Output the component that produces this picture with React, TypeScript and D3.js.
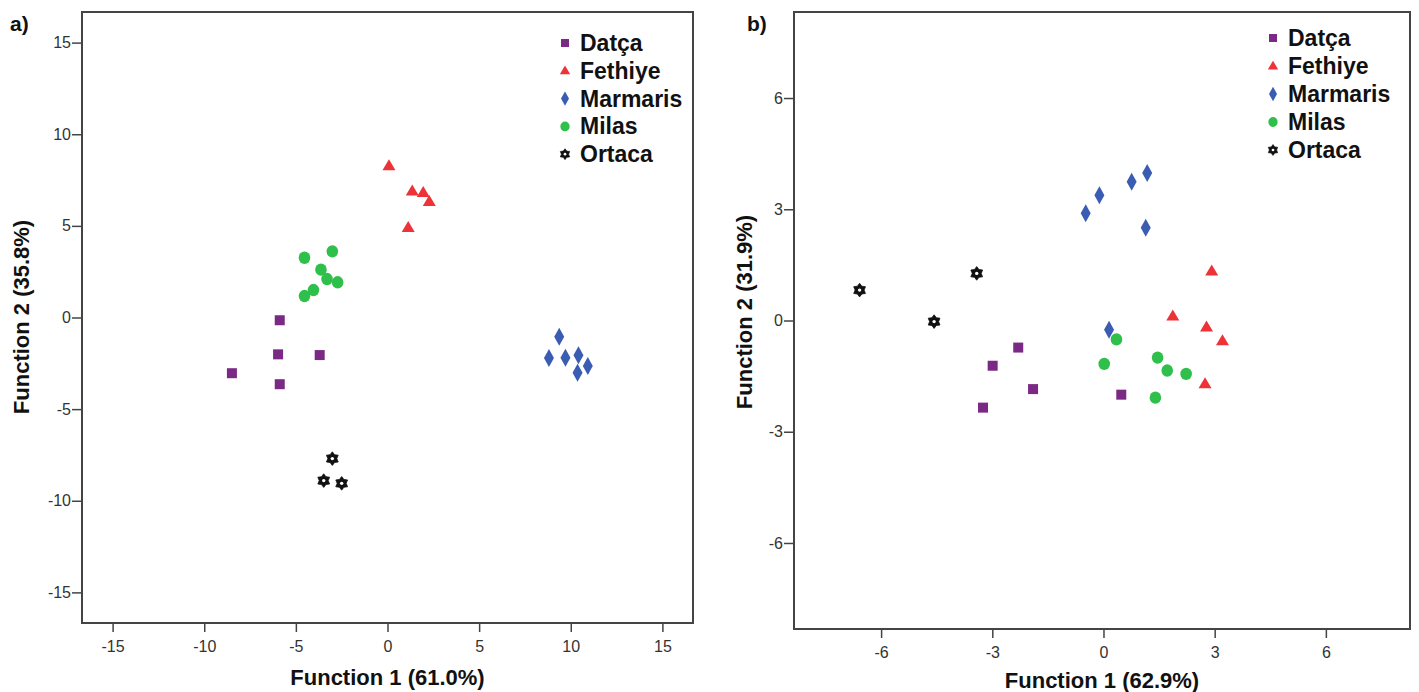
import React, { useEffect, useRef } from 'react';
import * as d3 from 'd3';

// group names + colours
const groups = ['Datça', 'Fethiye', 'Marmaris', 'Milas', 'Ortaca'];
const groupColors = ['#7a2a84', '#ee3338', '#3b5cb3', '#2fbf4b', '#111111'];

// panel a) discriminant scores [function 1, function 2]
const aDatca = [[-8.49, -3.04], [-5.88, -0.15], [-5.97, -2.01], [-5.88, -3.64], [-3.70, -2.05]];
const aFethiye = [[0.08, 8.27], [1.35, 6.90], [1.95, 6.82], [2.28, 6.33], [1.13, 4.91]];
const aMarmaris = [[9.37, -1.05], [8.81, -2.21], [9.71, -2.19], [10.42, -2.06], [10.37, -3.01], [10.93, -2.65]];
const aMilas = [[-4.53, 3.26], [-3.01, 3.61], [-3.63, 2.61], [-3.30, 2.10], [-2.72, 1.92], [-4.04, 1.50], [-4.53, 1.17]];
const aOrtaca = [[-3.01, -7.70], [-3.48, -8.90], [-2.50, -9.05]];

// panel b)
const bDatca = [[-2.30, -0.73], [-2.99, -1.22], [-1.90, -1.85], [-3.25, -2.35], [0.48, -2.00]];
const bFethiye = [[2.92, 1.33], [1.87, 0.12], [2.78, -0.18], [3.21, -0.55], [2.74, -1.71]];
const bMarmaris = [[-0.48, 2.89], [-0.11, 3.38], [0.76, 3.74], [1.18, 3.98], [1.14, 2.50], [0.15, -0.25]];
const bMilas = [[0.35, -0.51], [0.02, -1.17], [1.46, -1.00], [1.72, -1.35], [2.23, -1.44], [1.40, -2.08]];
const bOrtaca = [[-6.58, 0.82], [-4.57, -0.03], [-3.42, 1.27]];

const aTicks = [-15, -10, -5, 0, 5, 10, 15];
const bTicks = [-6, -3, 0, 3, 6];

const TICK_FONT = '"Liberation Sans", Arial, sans-serif';

// 6-pointed star (hole drawn on top)
function starPath(r: number) {
  const pts: [number, number][] = [];
  for (let i = 0; i < 12; i++) {
    const a = (Math.PI / 6) * i - Math.PI / 2;
    const rr = i % 2 === 0 ? r : r * 0.66;
    pts.push([Math.cos(a) * rr, Math.sin(a) * rr]);
  }
  return 'M' + pts.map(p => p.join(',')).join('L') + 'Z';
}

function drawMarker(g: any, idx: number, scale: number) {
  const c = groupColors[idx];
  if (idx === 0) {
    const s = 10 * scale;
    g.append('rect').attr('x', -s / 2).attr('y', -s / 2).attr('width', s).attr('height', s).attr('fill', c);
  } else if (idx === 1) {
    const w = 13 * scale, h = 11 * scale;
    g.append('path').attr('d', `M0,${-h * 0.6}L${w / 2},${h * 0.4}L${-w / 2},${h * 0.4}Z`).attr('fill', c);
  } else if (idx === 2) {
    const w = 10 * scale, h = 18 * scale;
    g.append('path').attr('d', `M0,${-h / 2}L${w / 2},0L0,${h / 2}L${-w / 2},0Z`).attr('fill', c);
  } else if (idx === 3) {
    g.append('ellipse').attr('rx', 5.8 * scale).attr('ry', 6.2 * scale).attr('fill', c);
  } else {
    g.append('path').attr('d', starPath(6.8 * scale)).attr('fill', c)
      .attr('stroke', c).attr('stroke-width', 0.8 * scale).attr('stroke-linejoin', 'round');
    g.append('circle').attr('r', 1.7 * scale).attr('fill', '#fff');
  }
}

function drawPanel(svg: any, cfg: any) {
  const { left, right, top, bottom, xDomain, yDomain, ticks, series, xTitle, yTitle, label, labelX, legendX, legendY, legendStep, yTitleX, yTitleY, xTitleY } = cfg;
  const x = d3.scaleLinear().domain(xDomain).range([left, right]);
  const y = d3.scaleLinear().domain(yDomain).range([bottom, top]);
  const fmt = (d: any) => String(d);

  const gx = svg.append('g').attr('transform', `translate(0,${bottom})`)
    .call(d3.axisBottom(x).tickValues(ticks).tickSize(9).tickSizeOuter(0).tickFormat(fmt));
  gx.select('.domain').remove();
  gx.selectAll('line').attr('stroke', '#444').attr('stroke-width', 1.5);
  gx.selectAll('text').attr('font-size', 16).attr('font-family', TICK_FONT).attr('fill', '#333').attr('dy', '1.05em');

  const gy = svg.append('g').attr('transform', `translate(${left},0)`)
    .call(d3.axisLeft(y).tickValues(ticks).tickSize(10).tickSizeOuter(0).tickFormat(fmt));
  gy.select('.domain').remove();
  gy.selectAll('line').attr('stroke', '#444').attr('stroke-width', 1.5);
  gy.selectAll('text').attr('font-size', 16).attr('font-family', TICK_FONT).attr('fill', '#333').attr('x', -11);

  svg.append('rect')
    .attr('x', left).attr('y', top).attr('width', right - left).attr('height', bottom - top)
    .attr('fill', 'none').attr('stroke', '#444').attr('stroke-width', 2);

  series.forEach((pts: number[][], i: number) => {
    svg.append('g').selectAll('g').data(pts).join('g')
      .attr('transform', (d: number[]) => `translate(${x(d[0])},${y(d[1])})`)
      .each(function (this: any) { drawMarker(d3.select(this), i, 1); });
  });

  // legend
  const lg = svg.append('g');
  groups.forEach((name, i) => {
    const row = lg.append('g').attr('transform', `translate(${legendX},${legendY + i * legendStep})`);
    drawMarker(row.append('g'), i, 0.8);
    row.append('text').attr('x', 15).attr('y', 8)
      .attr('font-family', TICK_FONT).attr('font-weight', 'bold').attr('font-size', 23)
      .attr('fill', '#111').text(name);
  });

  svg.append('text')
    .attr('x', (left + right) / 2).attr('y', xTitleY).attr('text-anchor', 'middle')
    .attr('font-family', TICK_FONT).attr('font-weight', 'bold').attr('font-size', 22).attr('fill', '#111')
    .text(xTitle);
  svg.append('text')
    .attr('transform', `translate(${yTitleX},${yTitleY}) rotate(-90)`).attr('text-anchor', 'middle')
    .attr('font-family', TICK_FONT).attr('font-weight', 'bold').attr('font-size', 22).attr('fill', '#111')
    .text(yTitle);
  svg.append('text')
    .attr('x', labelX).attr('y', 31)
    .attr('font-family', TICK_FONT).attr('font-weight', 'bold').attr('font-size', 21).attr('fill', '#111')
    .text(label);
}

export default function App() {
  const ref = useRef<SVGSVGElement>(null);

  useEffect(() => {
    const svg = d3.select(ref.current);
    svg.selectAll('*').remove();

    drawPanel(svg, {
      left: 82, right: 693, top: 12, bottom: 623,
      xDomain: [-16.67, 16.67], yDomain: [-16.67, 16.67], ticks: aTicks,
      series: [aDatca, aFethiye, aMarmaris, aMilas, aOrtaca],
      xTitle: 'Function 1 (61.0%)', yTitle: 'Function 2 (35.8%)', label: 'a)', labelX: 10,
      legendX: 565, legendY: 43, legendStep: 27.8,
      yTitleX: 29, yTitleY: 317, xTitleY: 685,
    });

    drawPanel(svg, {
      left: 794, right: 1410, top: 12, bottom: 629,
      xDomain: [-8.35, 8.27], yDomain: [-8.32, 8.32], ticks: bTicks,
      series: [bDatca, bFethiye, bMarmaris, bMilas, bOrtaca],
      xTitle: 'Function 1 (62.9%)', yTitle: 'Function 2 (31.9%)', label: 'b)', labelX: 747,
      legendX: 1273, legendY: 38, legendStep: 28,
      yTitleX: 752, yTitleY: 312, xTitleY: 688,
    });
  }, []);

  return (
    <svg ref={ref} width={1419} height={692}
      style={{ position: 'absolute', left: 0, top: 0, background: '#fff' }} />
  );
}
